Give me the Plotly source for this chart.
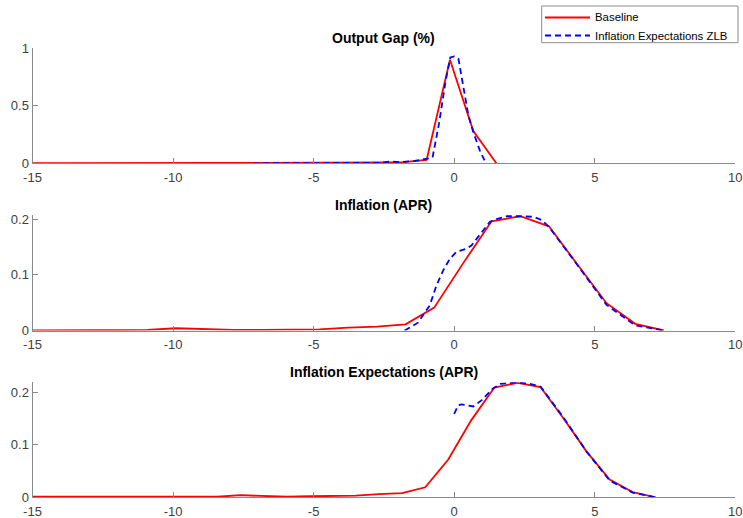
import plotly.graph_objects as go

# --- Output gap (%) ---
gap_base_x = [-15.0, -14.18, -13.35, -12.53, -11.7, -10.88, -10.05, -9.23, -8.4, -7.58, -6.75,
              -5.93, -5.1, -4.28, -3.45, -2.63, -1.8, -0.98, -0.15, 0.68, 1.5]
gap_base_y = [0.002, 0.003, 0.002, 0.002, 0.002, 0.003, 0.003, 0.004, 0.004, 0.003, 0.003,
              0.003, 0.004, 0.004, 0.005, 0.007, 0.01, 0.03, 0.9, 0.28, 0.0]
gap_zlb_x = [-7.15, -6.3, -5.5, -4.7, -3.9, -3.3, -2.6, -2.3, -1.9, -1.4, -0.95, -0.77,
             -0.54, -0.3, -0.14, 0.0, 0.15, 0.3, 0.51, 0.71, 0.93, 1.13]
gap_zlb_y = [0.0, 0.001, 0.003, 0.002, 0.001, 0.006, 0.004, 0.016, 0.01, 0.02, 0.04, 0.05,
             0.345, 0.72, 0.92, 0.93, 0.91, 0.70, 0.41, 0.25, 0.10, 0.0]

# --- Inflation (APR) ---
inf_base_x = [-15.0, -13.98, -12.96, -11.94, -10.92, -9.9, -8.88, -7.86, -6.84, -5.81, -4.79, -3.77,
              -2.75, -1.73, -0.71, 0.31, 1.33, 2.35, 3.37, 4.39, 5.42, 6.44, 7.46]
inf_base_y = [0.0, 0.0, 0.001, 0.001, 0.001, 0.004, 0.002, 0.001, 0.001, 0.002, 0.002, 0.005,
              0.007, 0.011, 0.041, 0.12, 0.196, 0.205, 0.187, 0.118, 0.049, 0.012, 0.0]
inf_zlb_x = [-1.76, -1.29, -0.87, -0.63, -0.39, -0.15, 0.08, 0.44, 0.62, 0.98, 1.27, 1.51,
             1.87, 2.35, 2.82, 3.12, 3.37, 4.39, 5.42, 6.44, 7.46]
inf_zlb_y = [0.0, 0.014, 0.045, 0.081, 0.108, 0.129, 0.141, 0.147, 0.153, 0.177, 0.195, 0.200,
             0.205, 0.205, 0.204, 0.198, 0.186, 0.117, 0.046, 0.009, 0.0]

# --- Inflation expectations (APR) ---
exp_base_x = [-15.0, -14.18, -13.35, -12.53, -11.71, -10.89, -10.06, -9.24, -8.42, -7.6, -6.78,
              -5.96, -5.14, -4.32, -3.5, -2.68, -1.85, -1.03, -0.21, 0.61, 1.43, 2.25, 3.07,
              3.89, 4.71, 5.53, 6.35, 7.17]
exp_base_y = [0.001, 0.001, 0.001, 0.001, 0.0, 0.001, 0.001, 0.001, 0.001, 0.004, 0.002,
              0.001, 0.002, 0.002, 0.003, 0.006, 0.008, 0.019, 0.072, 0.147, 0.209, 0.218, 0.210,
              0.150, 0.087, 0.034, 0.010, 0.0]
exp_zlb_x = [0.0, 0.14, 0.26, 0.68, 0.98, 1.37, 1.65, 2.23, 2.7, 3.07, 3.89, 4.71, 5.53, 6.35, 7.17]
exp_zlb_y = [0.159, 0.175, 0.177, 0.173, 0.185, 0.207, 0.216, 0.219, 0.216, 0.211, 0.152, 0.087,
             0.032, 0.009, 0.0]

titles = ["Output Gap (%)", "Inflation (APR)", "Inflation Expectations (APR)"]
series_names = ["Baseline", "Inflation Expectations ZLB"]
x_ticks = [-15, -10, -5, 0, 5, 10]
x_tick_text = ["-15", "-10", "-5", "0", "5", "10"]
y_ticks = [[0, 0.5, 1], [0, 0.1, 0.2], [0, 0.1, 0.2]]
y_tick_text = [["0", "0.5", "1"], ["0", "0.1", "0.2"], ["0", "0.1", "0.2"]]
y_max = [1.0, 0.208, 0.219]

W, H = 743, 518
FONT = "Liberation Sans, Arial, Helvetica, sans-serif"
AXIS_COLOR = "#8a8a8a"
TEXT_COLOR = "#404040"
RED, BLUE = "#ff0000", "#0000ff"
LINE_W = 1.8
DASH = "6px,4px"

panels = [
    (gap_base_x, gap_base_y, gap_zlb_x, gap_zlb_y),
    (inf_base_x, inf_base_y, inf_zlb_x, inf_zlb_y),
    (exp_base_x, exp_base_y, exp_zlb_x, exp_zlb_y),
]

# pixel rows of each panel: (zero line, top of axis)
rows_px = [(163.3, 48.3), (330.5, 214.6), (497.3, 382.3)]
title_px = [38, 205, 372]
x_dom = [32.5 / W, 735.3 / W]


def px_x(p):
    return p / W


def px_y(p):
    return 1 - p / H


fig = go.Figure()
for i, (bx, by, zx, zy) in enumerate(panels):
    sfx = "" if i == 0 else str(i + 1)
    fig.add_trace(go.Scatter(
        x=bx, y=by, mode="lines", name=series_names[0], showlegend=False,
        line=dict(color=RED, width=LINE_W), xaxis="x" + sfx, yaxis="y" + sfx))
    fig.add_trace(go.Scatter(
        x=zx, y=zy, mode="lines", name=series_names[1], showlegend=False,
        line=dict(color=BLUE, width=LINE_W, dash=DASH), xaxis="x" + sfx, yaxis="y" + sfx))

    y0, yt = rows_px[i]
    axis_common = dict(showline=True, linecolor=AXIS_COLOR, linewidth=1, mirror=False,
                       ticks="inside", ticklen=5, tickcolor=AXIS_COLOR, tickwidth=1,
                       showgrid=False, zeroline=False, automargin=False,
                       tickfont=dict(family=FONT, size=13, color=TEXT_COLOR))
    fig.layout["xaxis" + sfx] = dict(
        domain=x_dom, range=[-15, 10], tickvals=x_ticks, ticktext=x_tick_text,
        ticklabelstandoff=2, anchor="y" + sfx, **axis_common)
    fig.layout["yaxis" + sfx] = dict(
        domain=[(H - y0) / H, (H - yt) / H], range=[0, y_max[i]],
        tickvals=y_ticks[i], ticktext=y_tick_text[i],
        anchor="x" + sfx, **axis_common)
    fig.add_annotation(
        text="<b>" + titles[i] + "</b>", xref="paper", yref="paper",
        x=(x_dom[0] + x_dom[1]) / 2, y=px_y(title_px[i]),
        xanchor="center", yanchor="middle", showarrow=False,
        font=dict(family=FONT, size=14, color="#000000"))

# legend box in the top-right corner
box = (541.7, 6.0, 738.0, 42.7)
fig.add_shape(type="rect", xref="paper", yref="paper",
              x0=px_x(box[0]), x1=px_x(box[2]), y0=px_y(box[3]), y1=px_y(box[1]),
              line=dict(color="#8c8c8c", width=1), fillcolor="white", layer="above")
legend_rows = [(17.5, RED, "solid"), (35.5, BLUE, DASH)]
for (ry, col, dash), label in zip(legend_rows, series_names):
    fig.add_shape(type="line", xref="paper", yref="paper",
                  x0=px_x(545), x1=px_x(590), y0=px_y(ry), y1=px_y(ry),
                  line=dict(color=col, width=LINE_W, dash=dash), layer="above")
    fig.add_annotation(text=label, xref="paper", yref="paper",
                       x=px_x(593), y=px_y(ry), xanchor="left", yanchor="middle",
                       showarrow=False,
                       font=dict(family=FONT, size=11.4, color="#000000"))

fig.update_layout(
    width=W, height=H,
    margin=dict(l=0, r=0, t=0, b=0),
    paper_bgcolor="white", plot_bgcolor="white",
    showlegend=False,
)

fig.write_html("out.html")
